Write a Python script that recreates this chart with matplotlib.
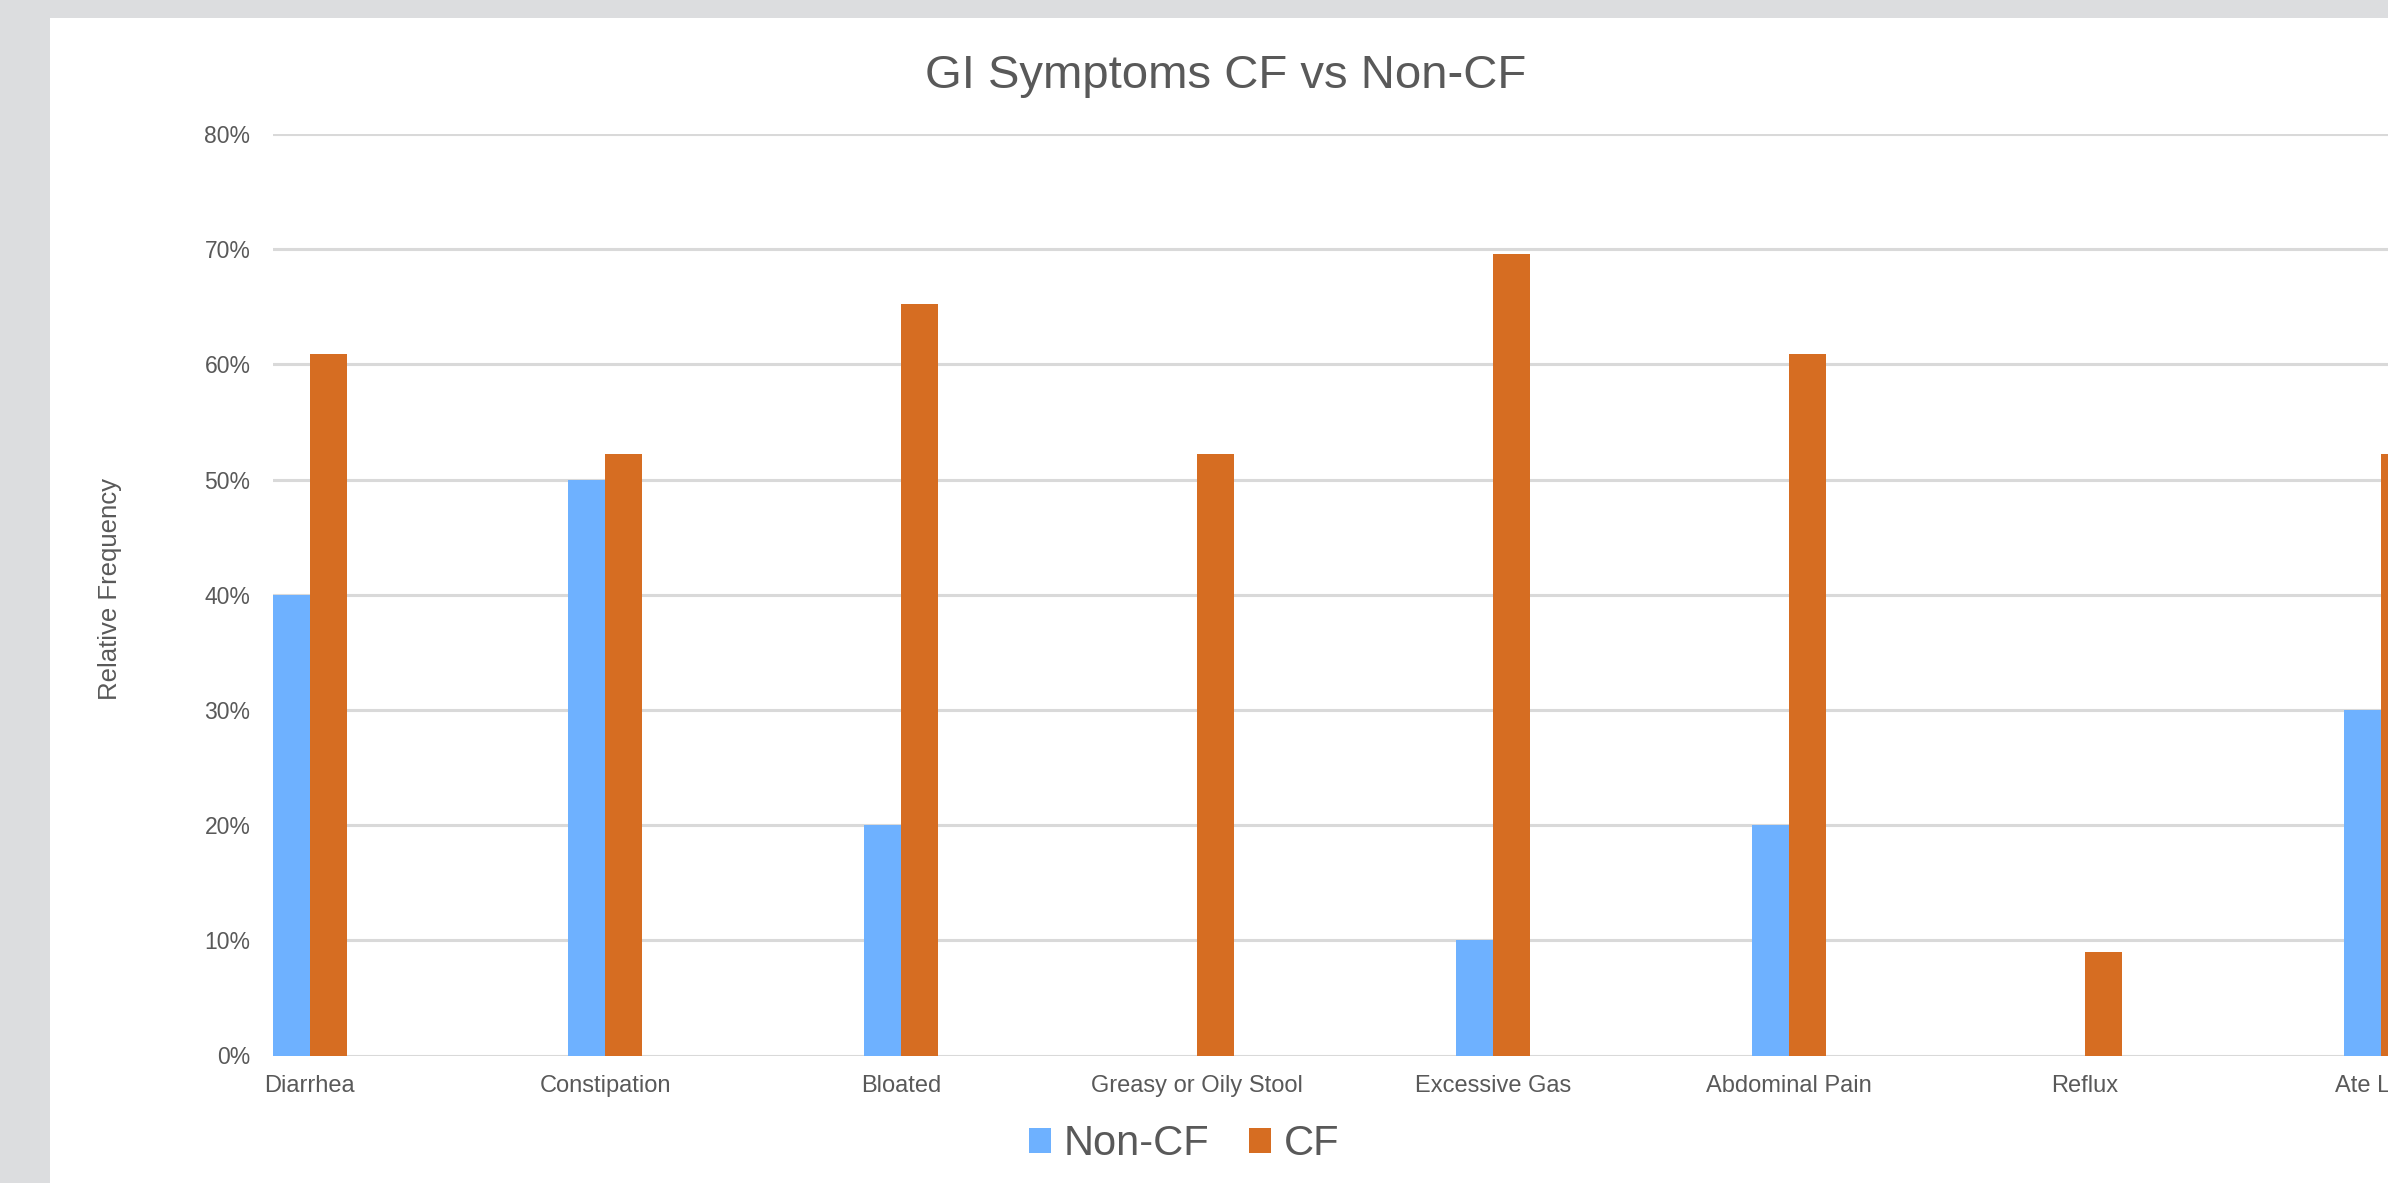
import matplotlib.pyplot as plt
import numpy as np
from matplotlib.patches import Patch, Rectangle
from matplotlib.ticker import PercentFormatter

plt.rcParams["font.family"] = ["Liberation Sans", "DejaVu Sans"]

# Data (relative frequency, %)
categories = ["Diarrhea", "Constipation", "Bloated", "Greasy or Oily Stool",
              "Excessive Gas", "Abdominal Pain", "Reflux", "Ate Less"]
non_cf = [40, 50, 20, 0, 10, 20, 0, 30]
cf = [60.9, 52.2, 65.2, 52.2, 69.6, 60.9, 9.0, 52.2]

BLUE = "#6EB1FF"
ORANGE = "#D66D22"
TEXT = "#595959"
GRID = "#D9D9D9"
W, H = 2388, 1183

fig = plt.figure(figsize=(W / 100, H / 100), dpi=100)
fig.patch.set_facecolor("#DCDDDF")
# white chart area (screenshot crop: gray border on left and top)
fig.patches.append(Rectangle((50 / W, 0), 1, 1 - 18 / H, transform=fig.transFigure,
                             facecolor="white", edgecolor="none", zorder=-10))

left, right = 272.6 / W, 1.0
bottom, top = 1 - 1055.5 / H, 1 - 134 / H
ax = fig.add_axes([left, bottom, right - left, top - bottom])
ax.set_facecolor("none")

x = np.arange(len(categories))
bw = 0.125
ax.bar(x - bw / 2, non_cf, bw, color=BLUE, zorder=3, label="Non-CF")
ax.bar(x + bw / 2, cf, bw, color=ORANGE, zorder=3, label="CF")

ax.set_xlim(-0.125, 7.025)
ax.set_ylim(0, 80)
ax.set_yticks(np.arange(0, 81, 10))
ax.yaxis.set_major_formatter(PercentFormatter(decimals=0))
ax.set_xticks(x)
ax.set_xticklabels(categories)

ax.grid(axis="y", color=GRID, linewidth=2.2, zorder=0)
for s in ax.spines.values():
    s.set_visible(False)
ax.tick_params(axis="y", length=0, pad=16, labelsize=16.5, labelcolor=TEXT)
ax.tick_params(axis="x", length=0, pad=14, labelsize=17, labelcolor=TEXT)

fig.text(1226 / W, 1 - 88 / H, "GI Symptoms CF vs Non-CF", ha="center",
         va="baseline", fontsize=34, color=TEXT)
fig.text(110 / W, 1 - 589 / H, "Relative Frequency", rotation=90, ha="center",
         va="center", fontsize=18.5, color=TEXT)

handles = [Patch(facecolor=BLUE, label="Non-CF"), Patch(facecolor=ORANGE, label="CF")]
leg = fig.legend(handles=handles, loc="center", bbox_to_anchor=(1184 / W, 1 - 1144 / H),
                 ncol=2, frameon=False, fontsize=30, handlelength=0.53,
                 handleheight=0.53, handletextpad=0.3, columnspacing=0.95,
                 borderpad=0, borderaxespad=0)
for t in leg.get_texts():
    t.set_color(TEXT)

fig.savefig("out.png", dpi=100, facecolor=fig.get_facecolor())
